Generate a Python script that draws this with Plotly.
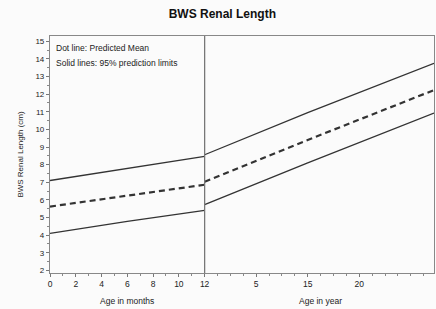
import plotly.graph_objects as go

# Axis position units: months on the left panel (0-12), continuing on the right panel
left_x = [0, 6, 12]
left_upper = [7.10, 7.78, 8.47]
left_mean = [5.62, 6.25, 6.86]
left_lower = [4.10, 4.78, 5.41]

right_x = [12, 20, 29.8]
right_upper = [8.56, 10.95, 13.75]
right_mean = [7.03, 9.40, 12.23]
right_lower = [5.73, 8.10, 10.93]

tick_vals = [0, 2, 4, 6, 8, 10, 12, 16, 20, 24]
tick_text = ["0", "2", "4", "6", "8", "10", "12", "5", "15", "20"]
y_ticks = list(range(2, 16))

line_col = "#333333"
FONT = "Liberation Sans, Arial, sans-serif"

fig = go.Figure()

def add(xs, ys, dash="solid", width=1.3):
    fig.add_trace(go.Scatter(x=xs, y=ys, mode="lines",
                             line=dict(color=line_col, width=width, dash=dash),
                             showlegend=False, hoverinfo="skip"))

add(left_x, left_upper)
add(left_x, left_lower)
add(left_x, left_mean, dash="6px,4px", width=2.2)
add(right_x, right_upper)
add(right_x, right_lower)
add(right_x, right_mean, dash="6px,4px", width=2.2)

fig.add_shape(type="line", xref="x", yref="paper", x0=12, x1=12, y0=0, y1=1,
              line=dict(color="#777777", width=1.3))

fig.add_annotation(text="Dot line: Predicted Mean", xref="paper", yref="paper",
                   x=0.01, y=0.95, xanchor="left", yanchor="middle", showarrow=False,
                   font=dict(size=8.5, color="#222222", family=FONT))
fig.add_annotation(text="Solid lines: 95% prediction limits", xref="paper", yref="paper",
                   x=0.01, y=0.888, xanchor="left", yanchor="middle", showarrow=False,
                   font=dict(size=8.5, color="#222222", family=FONT))

fig.add_annotation(text="Age in months", xref="x", yref="paper", x=6, y=0,
                   yanchor="middle", yshift=-28, showarrow=False,
                   font=dict(size=8.5, color="#222222", family=FONT))
fig.add_annotation(text="Age in year", xref="x", yref="paper", x=21, y=0,
                   yanchor="middle", yshift=-28, showarrow=False,
                   font=dict(size=8.5, color="#222222", family=FONT))

fig.update_layout(
    width=436, height=309,
    margin=dict(l=50, r=2, t=36, b=36),
    paper_bgcolor="#fbfbfb", plot_bgcolor="#fbfbfb",
    title=dict(text="<b>BWS Renal Length</b>", x=0.51, xanchor="center",
               y=0.955, yanchor="middle",
               font=dict(size=12, color="#111111", family=FONT)),
    font=dict(family=FONT, color="#222222", size=8),
)
fig.update_xaxes(range=[0, 29.8], tickmode="array", tickvals=tick_vals, ticktext=tick_text,
                 ticks="outside", ticklen=3, tickcolor="#777777", showgrid=False,
                 zeroline=False, showline=True, linecolor="#888888", linewidth=1.2,
                 mirror=True, tickfont=dict(size=8.5),
                 minor=dict(tickmode="linear", tick0=0, dtick=1, ticks="outside",
                            ticklen=2, tickcolor="#888888"))
fig.update_yaxes(range=[1.85, 15.3], tickmode="array", tickvals=y_ticks,
                 ticks="outside", ticklen=3, tickcolor="#777777", showgrid=False,
                 zeroline=False, showline=True, linecolor="#888888", linewidth=1.2,
                 mirror=True, tickfont=dict(size=8),
                 minor=dict(tickmode="linear", tick0=0, dtick=0.5, ticks="outside",
                            ticklen=2, tickcolor="#888888"),
                 title=dict(text="BWS Renal Length (cm)", font=dict(size=8), standoff=10))

fig.write_html("out.html", config={"displayModeBar": False},
               post_script="document.body.style.margin='0';document.body.style.background='#fbfbfb';")
